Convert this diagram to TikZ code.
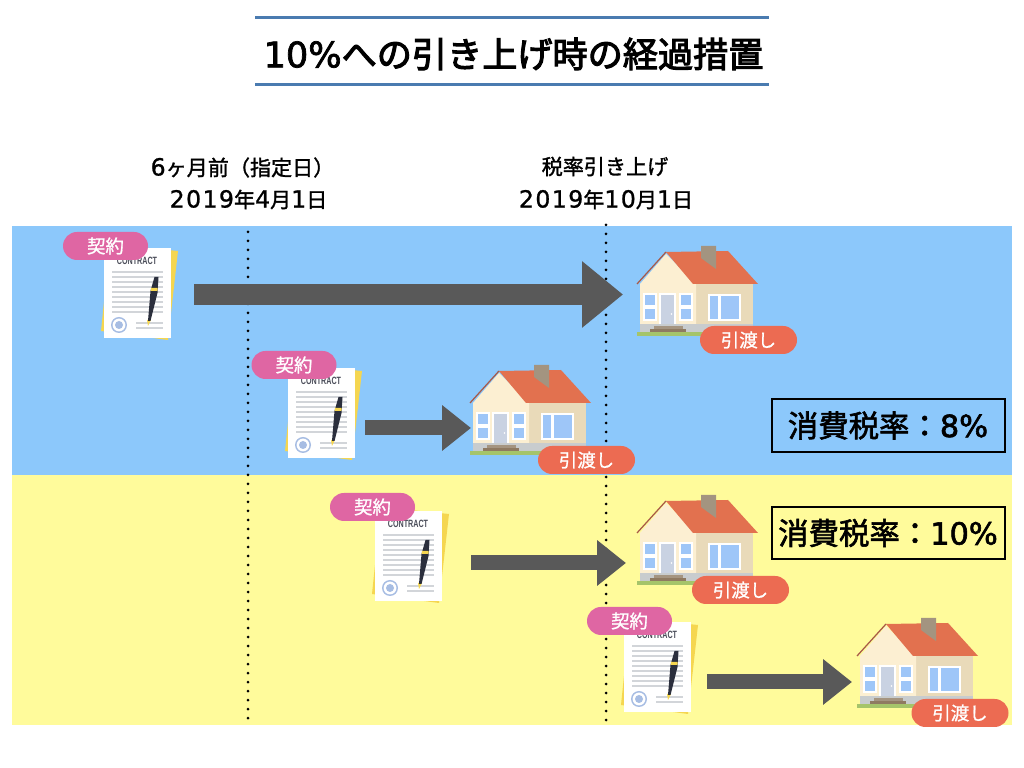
\documentclass[tikz,border=0pt]{standalone}
\usepackage{fontspec}
\setmainfont{Noto Sans CJK JP}
\newfontfamily\headfont[FakeBold=3]{Noto Sans CJK JP}
\newfontfamily\labelfont[FakeBold=2]{Noto Sans CJK JP}
\newfontfamily\datefont[FakeBold=1.5]{Noto Sans CJK JP}
\newfontfamily\tagfont[FakeBold=1]{Noto Sans CJK JP}
\newfontfamily\numfont[FakeBold=2]{DejaVu Sans}
\newfontfamily\datenumfont[Scale=1.12,LetterSpace=6,FakeBold=1]{DejaVu Sans}
\newfontfamily\stampfont{Liberation Sans}
\usetikzlibrary{arrows.meta}
\definecolor{taxblue}{HTML}{8CC8FB}
\definecolor{taxyellow}{HTML}{FFFB9B}
\definecolor{rulecol}{HTML}{4A7BB0}
\definecolor{arrowcol}{HTML}{595959}
\definecolor{pinktag}{HTML}{DF66A3}
\definecolor{orangetag}{HTML}{EC6B52}
\definecolor{roofred}{HTML}{E2714F}
\definecolor{roofedge}{HTML}{A85A48}
\definecolor{creamwall}{HTML}{FCEFD2}
\definecolor{sandwall}{HTML}{E9DAB9}
\definecolor{chimney}{HTML}{A39480}
\definecolor{glass}{HTML}{9EC6F8}
\definecolor{doorcol}{HTML}{C9D2E2}
\definecolor{basecol}{HTML}{C8CCCE}
\definecolor{stepcol}{HTML}{8F7A62}
\definecolor{grasscol}{HTML}{A5C46A}
\definecolor{sheetgold}{HTML}{F5D650}
\definecolor{textline}{HTML}{D2D5D9}
\definecolor{inkdark}{HTML}{2B2F3D}
\definecolor{sealblue}{HTML}{A7BDE3}
\tikzset{
    tagbox/.style={rounded corners=2.8mm, minimum height=5.6mm, inner sep=0pt, text=white, font=\tagfont\fontsize{10.5}{12}\selectfont},
    signtag/.style={tagbox, fill=pinktag, minimum width=17mm},
    handtag/.style={tagbox, fill=orangetag, minimum width=19.4mm},
    ratebox/.style={draw=black, line width=.4mm, minimum width=46.6mm, inner sep=0pt, font=\labelfont\fontsize{17.3}{20}\selectfont},
    datelabel/.style={inner sep=0pt, font=\datefont\fontsize{12}{14}\selectfont},
    bigflow/.style={arrowcol, line width=4.2mm, -{Triangle[length=8.2mm,width=12.8mm]}},
    smallflow/.style={arrowcol, line width=3mm, -{Triangle[length=5.8mm,width=8.8mm]}},
    dotline/.style={line width=.6mm, line cap=round, dash pattern=on 0pt off 1.8mm},
    contractdoc/.pic={
        \fill[sheetgold] (6,-4) -- (74,3) -- (64,92) -- (-3,83) -- cycle;
        \fill[white] (0,0) rectangle (67,90);
        \node[inner sep=0pt, text=inkdark!85, font=\stampfont\bfseries\fontsize{6}{6}\selectfont] (-title) at (33,13) {\scalebox{.68}[1]{CONTRACT}};
        % ruled text
        \foreach \ly in {24,29,...,64} {
            \draw[textline, line width=.3mm] (8,\ly) -- (59,\ly);
        }
        \draw[textline, line width=.3mm] (32,75) -- (59,75) (32,80) -- (59,80);
        % seal
        \fill[sealblue] (15,77) circle (8);
        \fill[white] (15,77) circle (6.4);
        \fill[sealblue] (15,77) circle (4);
        % pen
        \fill[sheetgold] (44,78) -- (43,72) -- (47,72) -- cycle;
        \fill[inkdark] (50.5,29) -- (54.5,29) -- (53.5,45) -- (46.5,73) -- (44,73) -- (46.5,43) -- cycle;
        \fill[sheetgold] (47,40) -- (53.7,40) -- (53.4,43) -- (46.6,43) -- cycle;
    },
    homeicon/.pic={
        % ground and base
        \fill[grasscol] (0,86) rectangle (118,90);
        \fill[basecol] (3,78) rectangle (116,86);
        \fill[sandwall] (59,38) rectangle (116,78);
        \fill[creamwall] (3,38) -- (29,8) -- (59,38) -- (59,78) -- (3,78) -- cycle;
        % roof and chimney
        \fill[chimney] (64,0) rectangle (79,12);
        \fill[roofred] (29,6) -- (91,5) -- (121,38) -- (56,38) -- cycle;
        \fill[chimney] (64,0) -- (79,0) -- (79,23) -- (64,12) -- cycle;
        \draw[roofedge, line width=.25mm] (0,38) -- (29,6);
        % door and steps
        \fill[white] (22,47) rectangle (39,78);
        \fill[doorcol] (24,49) rectangle (37,78);
        \fill[white] (34.5,68) circle (.8);
        \fill[stepcol!80] (17,80) rectangle (46,83);
        \fill[stepcol] (13,83) rectangle (49,86);
        % windows
        \foreach \wx in {6,42} {
            \fill[white] (\wx,47) rectangle ++(14,28);
            \fill[glass] (\wx+2,49) rectangle ++(10,10);
            \fill[glass] (\wx+2,63) rectangle ++(10,10);
        }
        \fill[white] (71,48) rectangle (104,75);
        \fill[glass] (73,50) rectangle (81,73);
        \fill[glass] (84,50) rectangle (102,73);
    }
}
\begin{document}
\begin{tikzpicture}[x=0.2mm,y=-0.2mm]
    \useasboundingbox (0,0) rectangle (1024,768);
    \fill[white] (0,0) rectangle (1024,768);

    % Title
    \draw[rulecol, line width=.6mm] (255,17.5) -- (769,17.5);
    \draw[rulecol, line width=.6mm] (255,85) -- (769,85);
    \node[inner sep=0pt, font=\headfont\fontsize{20}{24}\selectfont] (title) at (513.5,54) {{\numfont 10\%}への引き上げ時の経過措置};

    % Dates
    \node[datelabel] (beforeA) at (242.5,167.5) {{\datenumfont 6}ヶ月前（指定日）};
    \node[datelabel] (beforeB) at (248.5,199.5) {{\datenumfont 2019}年{\datenumfont 4}月{\datenumfont 1}日};
    \node[datelabel] (raiseA) at (605,166.5) {税率引き上げ};
    \node[datelabel] (raiseB) at (606,199.5) {{\datenumfont 2019}年{\datenumfont 10}月{\datenumfont 1}日};

    % Tax bands
    \fill[taxblue] (12,226) rectangle (1012,475);
    \fill[taxyellow] (12,475) rectangle (1012,725);

    % Date lines
    \draw[dotline] (248,232) -- (248,722);
    \draw[dotline] (606,225) -- (606,722);

    % Contracts and houses
    \foreach \name/\x/\y in {docA/104/248, docB/288/368, docC/375/511, docD/624/622} {
        \pic (\name) at (\x,\y) {contractdoc};
    }
    \foreach \name/\x/\y in {homeA/637/246, homeB/470/365, homeC/637/495, homeD/857/618} {
        \pic (\name) at (\x,\y) {homeicon};
    }

    % Arrows
    \coordinate (startA) at (194,294.5);
    \coordinate (endA) at (623,294.5);
    \coordinate (startB) at (365,428);
    \coordinate (endB) at (471,428);
    \coordinate (startC) at (471,563);
    \coordinate (endC) at (626,563);
    \coordinate (startD) at (707,682);
    \coordinate (endD) at (852,682);
    \draw[bigflow] (startA) -- (endA);
    \foreach \s/\e in {startB/endB, startC/endC, startD/endD} {
        \draw[smallflow] (\s) -- (\e);
    }

    % Tags
    \foreach \name/\x/\y in {signA/105.5/246, signB/294/365, signC/372.5/507, signD/629.5/621} {
        \node[signtag] (\name) at (\x,\y) {契約};
    }
    \foreach \name/\x/\y in {handA/748.5/340, handB/586.5/460, handC/740.5/590, handD/960/713} {
        \node[handtag] (\name) at (\x,\y) {引渡し};
    }

    % Rates
    \node[ratebox, minimum height=10.6mm] (rateA) at (888,425.5) {消費税率：{\numfont 8\%}};
    \node[ratebox, minimum height=10.4mm] (rateB) at (888,533) {消費税率：{\numfont 10\%}};
\end{tikzpicture}
\end{document}
